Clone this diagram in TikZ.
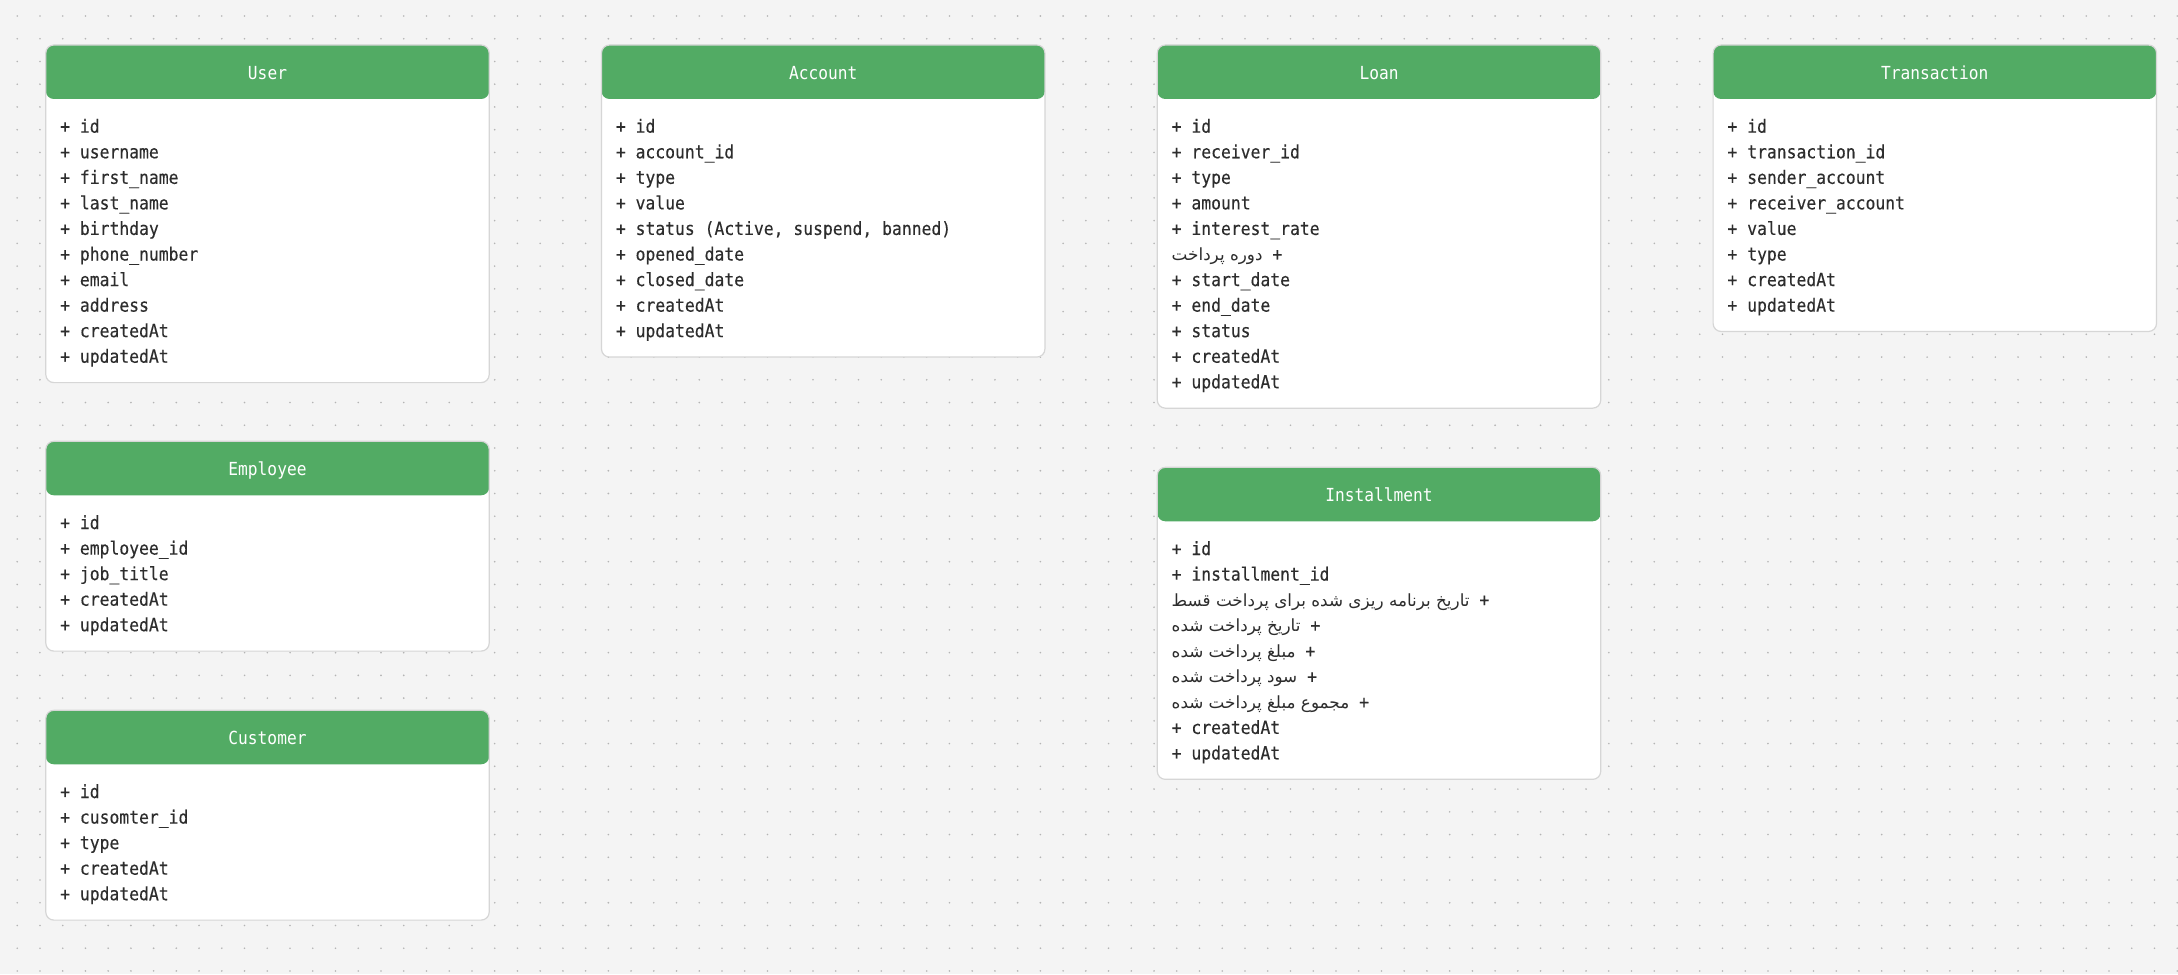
\documentclass[tikz,border=0pt]{standalone}
\usepackage{fontspec}
\setmonofont{DejaVu Sans Mono}
\newfontfamily\erbodyfont{DejaVu Sans Mono}[FakeStretch=0.9, FakeBold=0.25]
\newfontfamily\ertitlefont{DejaVu Sans Mono}[FakeStretch=0.9]
\newfontfamily\erfa[Script=Arabic]{DejaVu Sans}
\TeXXeTstate=1
\usetikzlibrary{calc}
\definecolor{erbg}{RGB}{244,244,244}
\definecolor{erdot}{RGB}{180,180,180}
\definecolor{ergreen}{RGB}{82,171,100}
\definecolor{erborder}{RGB}{214,214,214}
\definecolor{ertext}{RGB}{45,45,45}
\tikzset{
  erbox/.style={draw=erborder, line width=0.6pt, fill=white, rounded corners=4pt,
    minimum width=221.7pt, inner sep=0pt, outer sep=0pt, anchor=north west,
    path picture={\fill[ergreen] (path picture bounding box.north west) rectangle ([yshift=-27pt]path picture bounding box.north east);}},
  ertitle/.style={anchor=base, text=white, inner sep=0pt, font=\ertitlefont\fontsize{9.0}{11}\selectfont},
  erline/.style={anchor=base west, text=ertext, inner sep=0pt, font=\erbodyfont\fontsize{9.1}{11}\selectfont},
  dotrow/.style={draw=erdot, line width=0.9pt, line cap=round, dash pattern=on 0pt off 11.3685pt}
}
\newcommand{\erentity}[6]{%
  \pgfmathsetmacro{\erh}{(82+25.56*#4)*0.5}
  \node[erbox, minimum height=\erh pt] (#1) at (#2,#3) {};
  \node[ertitle] (#1-title) at ($(#1.north)+(0,34.3)$) {#5};
  \foreach \t [count=\i] in {#6} {
    \node[erline] (#1-\i) at ($(#1.north west)+(14,{87.7+25.56*(\i-1)})$) {\t};
  }
}
\begin{document}
\begin{tikzpicture}[x=0.5pt,y=-0.5pt]
\useasboundingbox (0,0) rectangle (2178,974);
\fill[erbg] (0,0) rectangle (2178,974);
\foreach \j in {0,...,42} {
  \draw[dotrow] (17.2,{16+22.737*\j}) -- (2178,{16+22.737*\j});
}
\erentity{user}{45.8}{45}{10}{User}{{+ id},{+ username},{+ first\_name},{+ last\_name},{+ birthday},{+ phone\_number},{+ email},{+ address},{+ createdAt},{+ updatedAt}}
\erentity{account}{601.5}{45}{9}{Account}{{+ id},{+ account\_id},{+ type},{+ value},{+ status (Active, suspend, banned)},{+ opened\_date},{+ closed\_date},{+ createdAt},{+ updatedAt}}
\erentity{loan}{1157.3}{45}{11}{Loan}{{+ id},{+ receiver\_id},{+ type},{+ amount},{+ interest\_rate},{\beginR+ {\erfa\fontsize{8.4}{11}\selectfont دوره پرداخت}\endR},{+ start\_date},{+ end\_date},{+ status},{+ createdAt},{+ updatedAt}}
\erentity{transaction}{1713.1}{45}{8}{Transaction}{{+ id},{+ transaction\_id},{+ sender\_account},{+ receiver\_account},{+ value},{+ type},{+ createdAt},{+ updatedAt}}
\erentity{employee}{45.8}{441.3}{5}{Employee}{{+ id},{+ employee\_id},{+ job\_title},{+ createdAt},{+ updatedAt}}
\erentity{customer}{45.8}{710.3}{5}{Customer}{{+ id},{+ cusomter\_id},{+ type},{+ createdAt},{+ updatedAt}}
\erentity{installment}{1157.3}{467.3}{9}{Installment}{{+ id},{+ installment\_id},{\beginR+ {\erfa\fontsize{8.4}{11}\selectfont تاریخ برنامه ریزی شده برای پرداخت قسط}\endR},{\beginR+ {\erfa\fontsize{8.4}{11}\selectfont تاریخ پرداخت شده}\endR},{\beginR+ {\erfa\fontsize{8.4}{11}\selectfont مبلغ پرداخت شده}\endR},{\beginR+ {\erfa\fontsize{8.4}{11}\selectfont سود پرداخت شده}\endR},{\beginR+ {\erfa\fontsize{8.4}{11}\selectfont مجموع مبلغ پرداخت شده}\endR},{+ createdAt},{+ updatedAt}}
\end{tikzpicture}
\end{document}
